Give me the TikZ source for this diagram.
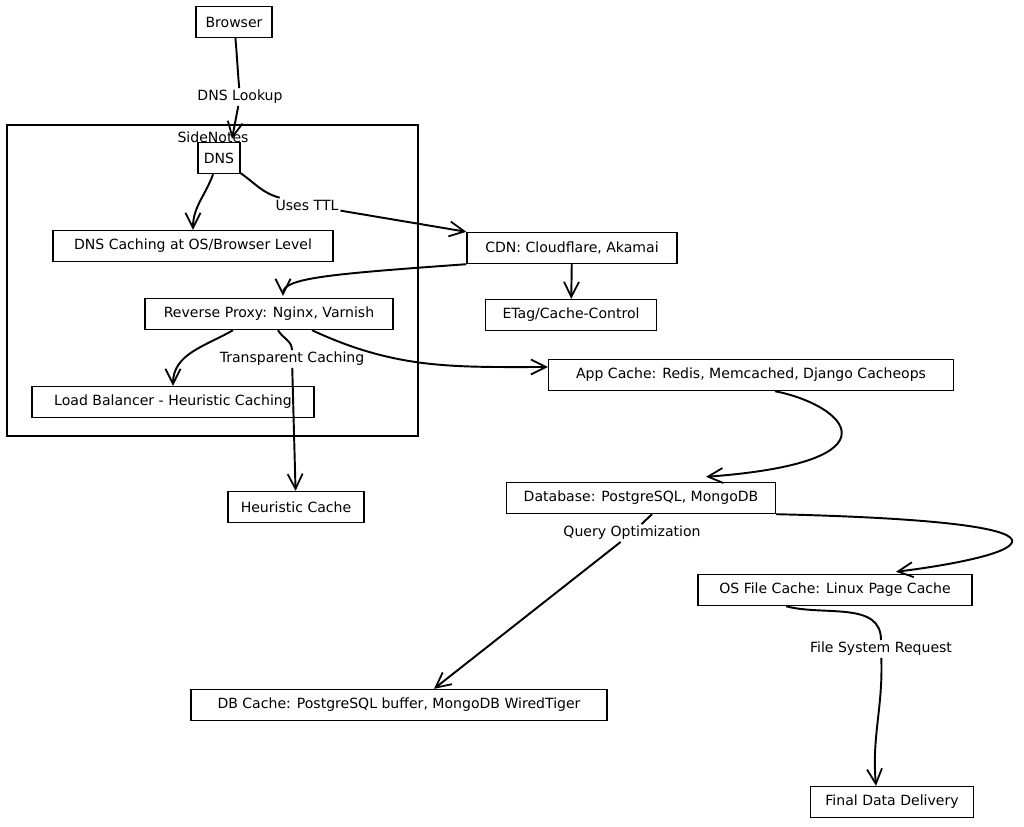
\documentclass[tikz,border=0pt]{standalone}
\usepackage{fontspec}
\setmainfont{DejaVu Sans}
\usepackage{tikz}
\usetikzlibrary{
    calc,
    positioning,
    arrows.meta
}
\tikzset{
    every node/.append style = {
        font = \fontsize{8}{10}\selectfont
    },
    box/.style = {
        draw,
        rectangle,
        line width = 0.8pt,
        minimum height = 0.62cm,
        inner sep = 2pt
    },
    lbl/.style = {
        inner sep = 1pt
    },
    link/.style = {
        line width = 1.1pt
    },
    arr/.style = {
        link,
        -{Straight Barb[length=3mm, width=3mm, line width=1pt]}
    }
}

\begin{document}
\begin{tikzpicture}[x=0.02cm, y=-0.02cm]
        \useasboundingbox (0,0) rectangle (1024,826);

        % side notes frame
        \node[box, minimum width=8.22cm, minimum height=6.22cm] (sidenotes) at (212.5,280.5) {};
        \node[lbl] (sidelabel) at (213,137) {SideNotes};

        \node[box, minimum width=1.52cm] (browser) at (234,22) {Browser};
        \node[box, minimum width=0.84cm] (dns) at (219,158) {DNS};
        \node[box, minimum width=5.6cm] (dnscache) at (193,246) {DNS Caching at OS/Browser Level};
        \node[box, minimum width=4.2cm] (cdn) at (572,248) {CDN: Cloudflare, Akamai};
        \node[box, minimum width=3.42cm] (etag) at (571,315) {ETag/Cache-Control};
        \node[box, minimum width=4.96cm] (revproxy) at (269,314) {Reverse Proxy: Nginx, Varnish};
        \node[box, minimum width=5.64cm] (lb) at (173,402) {Load Balancer - Heuristic Caching};
        \node[box, minimum width=2.72cm] (heur) at (296,507) {Heuristic Cache};
        \node[box, minimum width=8.1cm] (appcache) at (751,375) {App Cache: Redis, Memcached, Django Cacheops};
        \node[box, minimum width=5.38cm] (db) at (641,498) {Database: PostgreSQL, MongoDB};
        \node[box, minimum width=5.48cm] (osfile) at (835,590) {OS File Cache: Linux Page Cache};
        \node[box, minimum width=8.32cm] (dbcache) at (399,705) {DB Cache: PostgreSQL buffer, MongoDB WiredTiger};
        \node[box, minimum width=3.26cm] (final) at (892,802) {Final Data Delivery};

        % edge labels
        \node[lbl] (lookup) at (240,97) {DNS Lookup};
        \node[lbl] (ttl) at (307,205) {Uses TTL};
        \node[lbl] (transp) at (292,359) {Transparent Caching};
        \node[lbl] (query) at (632,533) {Query Optimization};
        \node[lbl] (fsreq) at (881,649) {File System Request};

        \draw[link] (browser) to[out=-85, in=95] (lookup);
        \draw[arr] (lookup) -- ($(dns.north)+(13,-3)$);
        \draw[arr] (dns) to[out=-110, in=90] (dnscache);
        \draw[link] (dns) to[out=-35, in=165] (ttl);
        \draw[arr] (ttl) -- (cdn.north west);
        \draw[arr] (cdn.south west)
            .. controls (330,274) and (283,278) .. ($(revproxy.north)+(14,-2)$);
        \draw[arr] (cdn) -- (etag);
        \draw[arr] ($(revproxy.south)+(-36,0)$) to[out=-150, in=90] (lb);
        \draw[link] ($(revproxy.south)+(9,0)$) to[out=-60, in=90] (transp);
        \draw[arr] (transp) -- (heur);
        \draw[arr] ($(revproxy.south)+(43,0)$) to[out=-25, in=180] ($(appcache.west)+(0,-8)$);
        \draw[arr] ($(appcache.south)+(24,0)$)
            .. controls (845,405) and (905,462) .. ($(db.north)+(65,-5)$);
        \draw[arr] (db.south east)
            .. controls (1110,522) and (1030,555) .. ($(osfile.north)+(61,-2)$);
        \draw[link] ($(db.south)+(11,0)$) -- (query);
        \draw[arr] (query) -- ($(dbcache.north)+(35,0)$);
        \draw[link] ($(osfile.south)+(-49,0)$) to[out=-15, in=90] (fsreq);
        \draw[arr] (fsreq) to[out=-88, in=95] ($(final.north)+(-16,0)$);
    \end{tikzpicture}
\end{document}
